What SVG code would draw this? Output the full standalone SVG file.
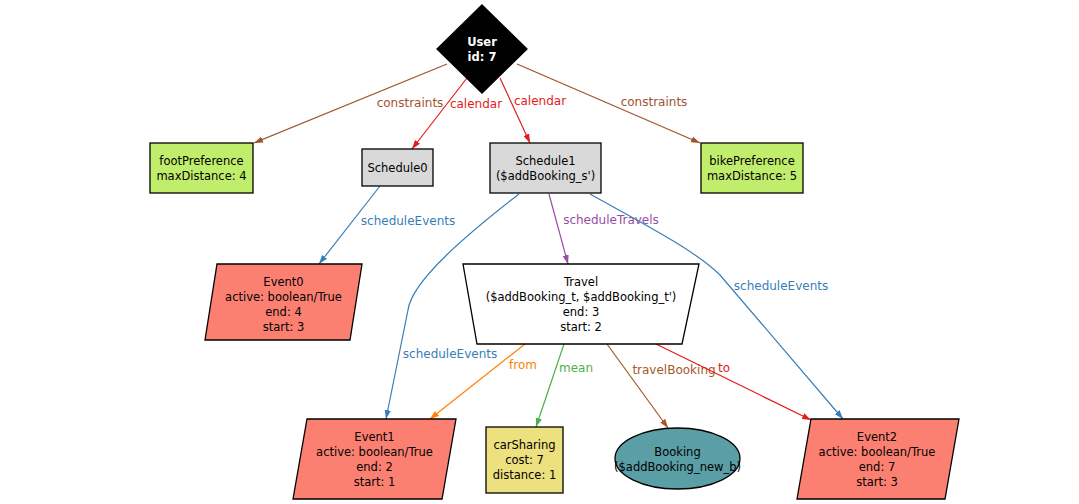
<svg xmlns="http://www.w3.org/2000/svg" width="1079" height="504" viewBox="0 0 1079 504">
<style>
text{font-family:"DejaVu Sans","Liberation Sans",sans-serif;font-size:11.5px;text-anchor:middle}
.n{stroke:#000;stroke-width:1.3}
.e{fill:none;stroke-width:1.2}
.lbl{font-size:12px}
</style>
<defs>
<marker id="aSi" viewBox="0 0 10 7" refX="10" refY="3.5" markerWidth="9" markerHeight="6.3" markerUnits="userSpaceOnUse" orient="auto"><path d="M0,0L10,3.5L0,7z" fill="#a0522d"/></marker>
<marker id="aRe" viewBox="0 0 10 7" refX="10" refY="3.5" markerWidth="9" markerHeight="6.3" markerUnits="userSpaceOnUse" orient="auto"><path d="M0,0L10,3.5L0,7z" fill="#e41a1c"/></marker>
<marker id="aBl" viewBox="0 0 10 7" refX="10" refY="3.5" markerWidth="9" markerHeight="6.3" markerUnits="userSpaceOnUse" orient="auto"><path d="M0,0L10,3.5L0,7z" fill="#377eb8"/></marker>
<marker id="aPu" viewBox="0 0 10 7" refX="10" refY="3.5" markerWidth="9" markerHeight="6.3" markerUnits="userSpaceOnUse" orient="auto"><path d="M0,0L10,3.5L0,7z" fill="#984ea3"/></marker>
<marker id="aOr" viewBox="0 0 10 7" refX="10" refY="3.5" markerWidth="9" markerHeight="6.3" markerUnits="userSpaceOnUse" orient="auto"><path d="M0,0L10,3.5L0,7z" fill="#ff7f00"/></marker>
<marker id="aGr" viewBox="0 0 10 7" refX="10" refY="3.5" markerWidth="9" markerHeight="6.3" markerUnits="userSpaceOnUse" orient="auto"><path d="M0,0L10,3.5L0,7z" fill="#4daf4a"/></marker>
<marker id="aBr" viewBox="0 0 10 7" refX="10" refY="3.5" markerWidth="9" markerHeight="6.3" markerUnits="userSpaceOnUse" orient="auto"><path d="M0,0L10,3.5L0,7z" fill="#a65628"/></marker>
</defs>
<rect width="1079" height="504" fill="#fff"/>
<g id="connectors">
<path class="e" stroke="#a0522d" d="M447,64L254,143" marker-end="url(#aSi)"/>
<text class="lbl" x="410" y="107" fill="#a0522d">constraints</text>
<path class="e" stroke="#e41a1c" d="M467,78L412,149" marker-end="url(#aRe)"/>
<text class="lbl" x="476" y="108" fill="#e41a1c">calendar</text>
<path class="e" stroke="#e41a1c" d="M500,78L530,143" marker-end="url(#aRe)"/>
<text class="lbl" x="540" y="105" fill="#e41a1c">calendar</text>
<path class="e" stroke="#a0522d" d="M517,64L700,143" marker-end="url(#aSi)"/>
<text class="lbl" x="654" y="106" fill="#a0522d">constraints</text>
<path class="e" stroke="#377eb8" d="M380,186L319,264" marker-end="url(#aBl)"/>
<text class="lbl" x="408" y="225" fill="#377eb8">scheduleEvents</text>
<path class="e" stroke="#984ea3" d="M549,194L568,264" marker-end="url(#aPu)"/>
<text class="lbl" x="611" y="224" fill="#984ea3">scheduleTravels</text>
<path class="e" stroke="#377eb8" d="M519,194C470,232 412,280 408,310L386,419" marker-end="url(#aBl)"/>
<text class="lbl" x="450" y="358" fill="#377eb8">scheduleEvents</text>
<path class="e" stroke="#377eb8" d="M590,194C640,222 695,250 720,275L843,419" marker-end="url(#aBl)"/>
<text class="lbl" x="781" y="290" fill="#377eb8">scheduleEvents</text>
<path class="e" stroke="#ff7f00" d="M525,344L430,419" marker-end="url(#aOr)"/>
<text class="lbl" x="523" y="369" fill="#ff7f00">from</text>
<path class="e" stroke="#4daf4a" d="M564,344L536,427" marker-end="url(#aGr)"/>
<text class="lbl" x="576" y="372" fill="#4daf4a">mean</text>
<path class="e" stroke="#a65628" d="M607,344L668,428" marker-end="url(#aBr)"/>
<text class="lbl" x="674" y="374" fill="#a65628">travelBooking</text>
<path class="e" stroke="#e41a1c" d="M656,344L811,420" marker-end="url(#aRe)"/>
<text class="lbl" x="724" y="372" fill="#e41a1c">to</text>
</g>
<g id="user">
<polygon class="n" points="482,5 527,49 482,93 437,49" fill="#000"/>
<text x="482" y="46" fill="#fff" font-weight="bold">User</text>
<text x="482" y="61" fill="#fff" font-weight="bold">id: 7</text>
</g>
<g id="footPreference">
<rect class="n" x="150" y="143" width="103" height="50" fill="#c0ee6c"/>
<text x="201.5" y="165">footPreference</text>
<text x="201.5" y="180">maxDistance: 4</text>
</g>
<g id="schedule0">
<rect class="n" x="362" y="149" width="71" height="37" fill="#d9d9d9"/>
<text x="397.5" y="172">Schedule0</text>
</g>
<g id="schedule1">
<rect class="n" x="490" y="143" width="111" height="50" fill="#d9d9d9"/>
<text x="545.5" y="165">Schedule1</text>
<text x="545.5" y="180">($addBooking_s')</text>
</g>
<g id="bikePreference">
<rect class="n" x="701" y="143" width="102" height="50" fill="#c0ee6c"/>
<text x="752" y="165">bikePreference</text>
<text x="752" y="180">maxDistance: 5</text>
</g>
<g id="event0">
<polygon class="n" points="217,264 362,264 350,340 205,340" fill="#fb8072"/>
<text x="283.5" y="286">Event0</text>
<text x="283.5" y="301">active: boolean/True</text>
<text x="283.5" y="316">end: 4</text>
<text x="283.5" y="331">start: 3</text>
</g>
<g id="travel">
<polygon class="n" points="463,264 699,264 682,344 477,344" fill="#fff"/>
<text x="581" y="286">Travel</text>
<text x="581" y="301">($addBooking_t, $addBooking_t')</text>
<text x="581" y="316">end: 3</text>
<text x="581" y="331">start: 2</text>
</g>
<g id="event1">
<polygon class="n" points="307,419 456,419 442,499 293,499" fill="#fb8072"/>
<text x="374.5" y="441">Event1</text>
<text x="374.5" y="456">active: boolean/True</text>
<text x="374.5" y="471">end: 2</text>
<text x="374.5" y="486">start: 1</text>
</g>
<g id="carSharing">
<rect class="n" x="486" y="427" width="77" height="66" fill="#ede07f"/>
<text x="524.5" y="449">carSharing</text>
<text x="524.5" y="464">cost: 7</text>
<text x="524.5" y="479">distance: 1</text>
</g>
<g id="booking">
<ellipse class="n" cx="677.5" cy="458.5" rx="62.5" ry="30.5" fill="#5a9ea6"/>
<text x="677.5" y="456">Booking</text>
<text x="677.5" y="471">($addBooking_new_b)</text>
</g>
<g id="event2">
<polygon class="n" points="811,419 959,419 945,499 797,499" fill="#fb8072"/>
<text x="877" y="441">Event2</text>
<text x="877" y="456">active: boolean/True</text>
<text x="877" y="471">end: 7</text>
<text x="877" y="486">start: 3</text>
</g>
</svg>
